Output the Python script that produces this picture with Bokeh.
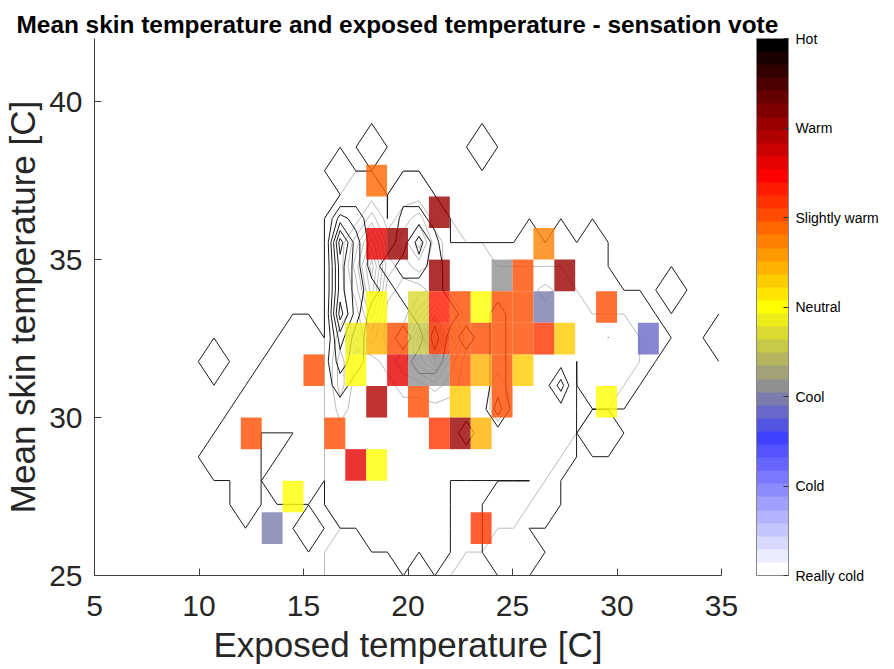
import numpy as np
from bokeh.plotting import figure
from bokeh.models import ColorBar, LinearColorMapper, FixedTicker, ColumnDataSource
from bokeh.embed import file_html
from bokeh.resources import INLINE

FONT = "Liberation Sans"
TXT = "#262626"

# ---------------- data ----------------
vote_ticks = [-3, -2, -1, 0, 1, 2, 3]
vote_labels = ["Really cold", "Cold", "Cool", "Neutral", "Slightly warm", "Warm", "Hot"]

x_ticks = [5, 10, 15, 20, 25, 30, 35]
y_ticks = [25, 30, 35, 40]

# heat-map bins (lower-left corner, 1 C bins) and mean sensation vote
cell_x = [18,
          21,
          18, 19, 26,
          21, 24, 25, 27,
          18, 20, 21, 22, 23, 24, 25, 26, 29,
          17, 18, 19, 20, 21, 22, 23, 24, 25, 26, 27, 31,
          15, 17, 19, 20, 21, 22, 23, 24, 25,
          18, 20, 22, 24, 29,
          12, 16, 21, 22, 23,
          17, 18,
          14,
          13, 23]
cell_y = [37,
          36,
          35, 35, 35,
          34, 34, 34, 34,
          33, 33, 33, 33, 33, 33, 33, 33, 33,
          32, 32, 32, 32, 32, 32, 32, 32, 32, 32, 32, 32,
          31, 31, 31, 31, 31, 31, 31, 31, 31,
          30, 30, 30, 30, 30,
          29, 29, 29, 29, 29,
          28, 28,
          27,
          26, 26]
vote = [0.88,
        2.05,
        1.61, 2.05, 0.73,
        2.05, -0.88, 1.02, 2.05,
        0.0, -0.29, 1.32, 1.02, 0.0, 1.02, 1.02, -1.02, 1.02,
        -0.15, 0.5, 1.02, -0.44, 1.1, 1.02, 1.02, 1.02, 1.02, 1.17, 0.29, -1.17,
        1.02, 0.0, 1.61, -0.88, -0.88, 1.02, 0.44, 1.02, 0.29,
        1.9, 1.02, 0.29, 1.02, 0.0,
        1.02, 1.02, 1.17, 2.05, 0.44,
        1.61, 0.0,
        0.0,
        -1.02, 1.17]

# observation counts on the contour grid (rows from top to bottom, base-36 digits)
grid_x0, grid_y0, grid_step = 9.96, 24.98, 0.7547
black_counts = [
    "0000000000000000000000000000000000",
    "0000000000010000001000000000000000",
    "0000000001000000000000000000000000",
    "0000000000110110000000000000000000",
    "0000000003210221000000000000000000",
    "0000000006311242000001010100000000",
    "0000000005312332111111111100000000",
    "0000000005321222111111111110001000",
    "0000000006311122211211111111100000",
    "0000001104211213121211111101110001",
    "0100011113211122111211110111100000",
    "0000111112111111111211130111000000",
    "0001111111111111111311110000000000",
    "0011000111111111121111110110000000",
    "0111001111111111111111110000000000",
    "0001011101111111000000100000000000",
    "0001000001111111000111100000000000",
    "0000000100011111000110000000000000",
    "0000000000000101000111000000000000",
    "0000000000000000000000000000000000",
]
gray_counts = [
    "0000000000000000000000000000000000",
    "0000000000000000000000000000000000",
    "0000000000000000000000000000000000",
    "0000000000110110000000000000000000",
    "0000000001131231000000000000000000",
    "0000000001362352100000000000000000",
    "0000000001483232111000000000000000",
    "0000000001372112111111210000000000",
    "0000000001251136311111111000000000",
    "000000000223126k621111111111000000",
    "0000000003112357311111111111000000",
    "0000000003111223211211111110000000",
    "0000000002111111111211111000000000",
    "0000000001111111111111110000000000",
    "0000000001111111111111100000000000",
    "0000000001111111111111000000000000",
    "0000000001111111111110000000000000",
    "0000000000111111111000000000000000",
    "0000000001111111100000000000000000",
    "0000000001111110000000000000000000",
]


def parse(rows):
    return np.array([[int(c, 36) for c in r] for r in rows[::-1]], dtype=float)


zb = parse(black_counts)
zg = parse(gray_counts)
ny, nx = zb.shape
gx = grid_x0 + grid_step * np.arange(nx)
gy = grid_y0 + grid_step * np.arange(ny)
levels = [0.01] + [k + 0.5 for k in range(1, 21)]

# ---------------- colormap (41 bands) ----------------
anchors = [(0, (255, 255, 255)), (10, (64, 64, 255)), (14, (144, 144, 144)),
           (20, (255, 255, 0)), (30, (255, 0, 0)), (40, (0, 0, 0))]
palette = []
for k in range(41):
    for (a, ca), (b, cb) in zip(anchors[:-1], anchors[1:]):
        if a <= k <= b:
            t = (k - a) / (b - a)
            c = tuple(int(round(ca[m] + t * (cb[m] - ca[m]))) for m in range(3))
            break
    palette.append("#%02x%02x%02x" % c)
mapper = LinearColorMapper(palette=palette, low=-3, high=3)

# ---------------- figure ----------------
p = figure(frame_width=627, frame_height=537, x_range=(5, 35), y_range=(25, 42),
           output_backend="svg", toolbar_location=None,
           min_border_left=88, min_border_top=38, min_border_bottom=90, min_border_right=5)
p.background_fill_color = "white"
p.border_fill_color = "white"
p.outline_line_color = None
p.xgrid.visible = False
p.ygrid.visible = False

p.contour(gx, gy, zg, levels, line_color="#bcbcbc", line_width=1)
p.contour(gx, gy, zb, levels, line_color="#1a1a1a", line_width=1)

src = ColumnDataSource(dict(left=cell_x, bottom=cell_y,
                            right=[v + 1 for v in cell_x], top=[v + 1 for v in cell_y],
                            vote=vote))
p.quad(left="left", right="right", bottom="bottom", top="top", source=src,
       fill_color={"field": "vote", "transform": mapper}, fill_alpha=0.8, line_color=None)

for ax, ticks, lab in ((p.xaxis, x_ticks, "Exposed temperature [C]"),
                       (p.yaxis, y_ticks, "Mean skin temperature [C]")):
    ax.ticker = FixedTicker(ticks=ticks)
    ax.major_tick_in = 7
    ax.major_tick_out = 0
    ax.minor_tick_line_color = None
    ax.axis_line_color = "#404040"
    ax.major_tick_line_color = "#404040"
    ax.major_label_text_font = FONT
    ax.major_label_text_font_size = "30px"
    ax.major_label_text_color = TXT
    ax.axis_label = lab
    ax.axis_label_text_font = FONT
    ax.axis_label_text_font_size = "35px"
    ax.axis_label_text_font_style = "normal"
    ax.axis_label_text_color = TXT

p.xaxis.major_label_standoff = 20
p.yaxis.major_label_standoff = 12
p.xaxis.axis_label_standoff = 6
p.yaxis.axis_label_standoff = 4

cb = ColorBar(color_mapper=mapper, ticker=FixedTicker(ticks=vote_ticks),
              major_label_overrides=dict(zip(vote_ticks, vote_labels)),
              width=32, height=537, padding=0, margin=0, location=(35, 0),
              major_label_text_font=FONT, major_label_text_font_size="14px",
              major_label_text_color="black",
              major_tick_in=5, major_tick_out=0, major_tick_line_color="#333333",
              bar_line_color="#888888", label_standoff=7,
              background_fill_color=None, border_line_color=None)
p.add_layout(cb, "right")

p.title.text = "Mean skin temperature and exposed temperature - sensation vote"
p.title.text_font = FONT
p.title.text_font_style = "bold"
p.title.text_font_size = "24.4px"
p.title.text_color = "black"
p.title.align = "left"
p.title.offset = -78
p.title.standoff = 2

open("out.html", "w").write(file_html(p, INLINE))
